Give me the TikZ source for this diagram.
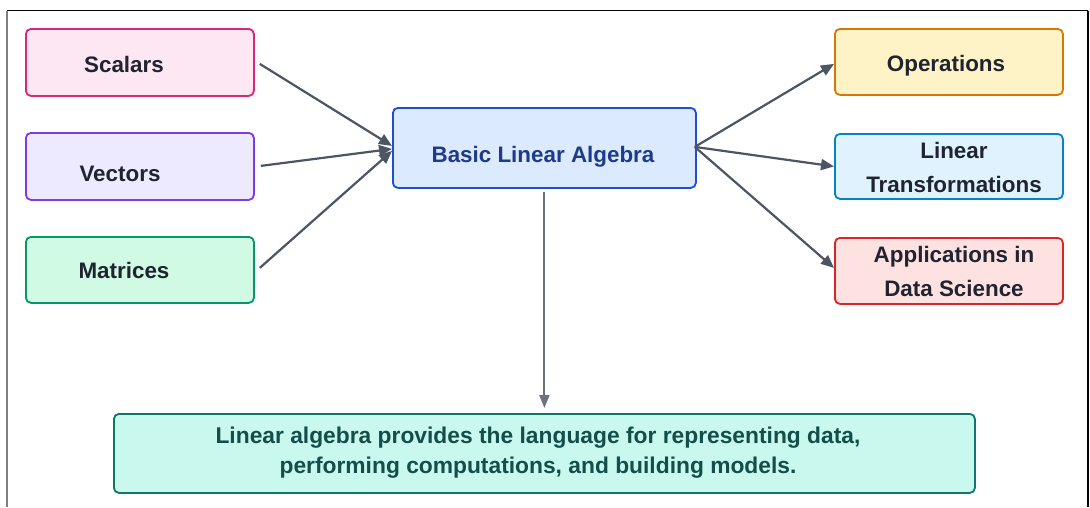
\documentclass[tikz,border=0pt]{standalone}
\usepackage{fontspec}
\setmainfont{Liberation Sans}
\usetikzlibrary{arrows.meta,calc}
\definecolor{txt}{HTML}{1F2430}
\definecolor{arrc}{HTML}{4B5563}
\definecolor{arrd}{HTML}{6B7280}
\definecolor{scF}{HTML}{FCE7F3}\definecolor{scD}{HTML}{DB2777}
\definecolor{veF}{HTML}{EDE9FE}\definecolor{veD}{HTML}{7C3AED}
\definecolor{maF}{HTML}{D1FAE5}\definecolor{maD}{HTML}{059669}
\definecolor{baF}{HTML}{DBEAFE}\definecolor{baD}{HTML}{1D4ED8}\definecolor{baT}{HTML}{1E3A8A}
\definecolor{opF}{HTML}{FEF3C7}\definecolor{opD}{HTML}{D97706}
\definecolor{ltF}{HTML}{E0F2FE}\definecolor{ltD}{HTML}{0284C7}
\definecolor{apF}{HTML}{FEE2E2}\definecolor{apD}{HTML}{DC2626}
\definecolor{boF}{HTML}{C8F8EE}\definecolor{boD}{HTML}{0F766E}\definecolor{boT}{HTML}{134E4A}
\tikzset{
  box/.style={draw, rounded corners=5pt, line width=1.8pt, inner sep=0pt, anchor=north west},
  lbl/.style={font=\bfseries\fontsize{22.4}{34}\selectfont, text=txt, align=center, inner sep=0pt},
  arr/.style={draw=arrc, line width=2.2pt, -{Triangle[length=13pt,width=11pt]}},
  arrdown/.style={draw=arrd, line width=2pt, -{Triangle[length=13pt,width=10pt]}},
}
\begin{document}
\begin{tikzpicture}[x=1pt,y=-1pt]
\useasboundingbox (0,0) rectangle (1090,507);
% frame
\draw[line width=1.2pt, black] (7,10.5) -- (1088,10.5);
\draw[line width=1.4pt, gray] (7,10.5) -- (7,507);
\draw[line width=1.2pt, black] (1088,10.5) -- (1088,507);
% boxes
\node[box, fill=scF, draw=scD, minimum width=228pt, minimum height=67pt] (sc) at (25,28) {};
\node[box, fill=veF, draw=veD, minimum width=228pt, minimum height=67pt] (ve) at (25,132) {};
\node[box, fill=maF, draw=maD, minimum width=228pt, minimum height=66pt] (ma) at (25,236) {};
\node[box, fill=baF, draw=baD, minimum width=303pt, minimum height=80pt] (ba) at (392,107) {};
\node[box, fill=opF, draw=opD, minimum width=228pt, minimum height=66pt] (op) at (834,28) {};
\node[box, fill=ltF, draw=ltD, minimum width=228pt, minimum height=65pt] (lt) at (834,133) {};
\node[box, fill=apF, draw=apD, minimum width=228pt, minimum height=66pt] (ap) at (834,237) {};
\node[box, fill=boF, draw=boD, minimum width=861pt, minimum height=79pt] (bo) at (113,413) {};
% labels
\node[lbl] (tsc) at (124,64) {Scalars};
\node[lbl] (tve) at (120,174) {Vectors};
\node[lbl] (tma) at (124,270) {Matrices};
\node[lbl, text=baT] (tba) at (543,157) {Basic Linear Algebra};
\node[lbl] (top) at (946,66) {Operations};
\node[lbl] (tlt) at (954,167) {Linear\\Transformations};
\node[lbl] (tap) at (954,271.5) {Applications in\\Data Science};
\node[lbl, text=boT, font=\bfseries\fontsize{22.8}{30}\selectfont] (tbo) at (538,452.5) {Linear algebra provides the language for representing data,\\performing computations, and building models.};
% connectors
\draw[arr] ([xshift=5pt,yshift=-1.5pt]sc.east) -- ([yshift=2pt]ba.west);
\draw[arr] ([xshift=6pt,yshift=0.5pt]ve.east) -- ([yshift=-1pt]ba.west);
\draw[arr] ([xshift=5pt,yshift=2pt]ma.east) -- ([yshift=-3pt]ba.west);
\draw[arr] ([xshift=-2pt,yshift=1pt]ba.east) -- ([yshift=-2pt]op.west);
\draw[arr] ([xshift=-2pt,yshift=1pt]ba.east) -- (lt.west);
\draw[arr] ([xshift=-2pt,yshift=1pt]ba.east) -- ([yshift=3pt]ap.west);
\draw[arrdown] ([yshift=-3pt]ba.south) -- ([yshift=5pt]bo.north);
\end{tikzpicture}
\end{document}
